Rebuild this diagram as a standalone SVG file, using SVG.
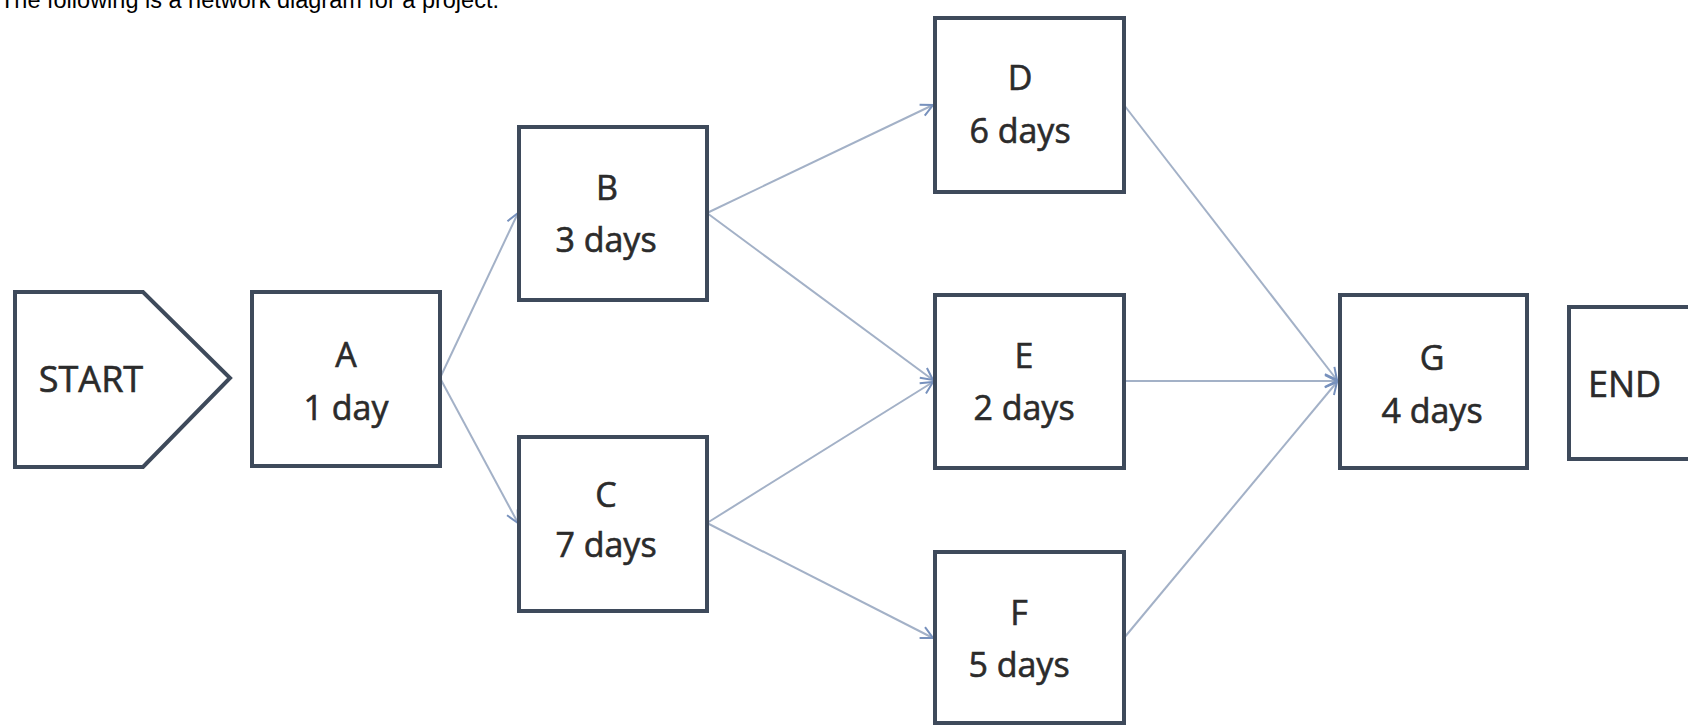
<svg xmlns="http://www.w3.org/2000/svg" width="1688" height="726" viewBox="0 0 1688 726">
<style>
.box{fill:#fff;stroke:#3e4a5b;stroke-width:4;stroke-linejoin:miter}
.lbl{font-family:"Open Sans","DejaVu Sans",sans-serif;font-size:34px;fill:#2b2b2b;stroke:#2b2b2b;stroke-width:0.6;text-anchor:middle}
.big{font-size:36px}
.title{font-family:"Liberation Sans",Arial,sans-serif;font-size:23.5px;fill:#000}
.conn{stroke:#a3b1c7;stroke-width:2;fill:none;marker-end:url(#arr)}
</style>
<defs>
<marker id="arr" markerUnits="userSpaceOnUse" viewBox="-14 -8 16 16" refX="0" refY="0" markerWidth="16" markerHeight="16" orient="auto">
<path d="M-12,-6 L0,0 L-12,6" fill="none" stroke="#7791bd" stroke-width="2"/>
</marker>
</defs>
<rect width="1688" height="726" fill="#fff"/>
<text class="title" x="0" y="8">The following is a network diagram for a project.</text>
<g id="connectors">
<line class="conn" x1="440" y1="378" x2="518" y2="213"/>
<line class="conn" x1="440" y1="378" x2="518" y2="523"/>
<line class="conn" x1="707" y1="213" x2="933" y2="105"/>
<line class="conn" x1="707" y1="213" x2="933" y2="380"/>
<line class="conn" x1="707" y1="523" x2="933" y2="382"/>
<line class="conn" x1="707" y1="523" x2="933" y2="638"/>
<line class="conn" x1="1124" y1="105" x2="1337" y2="380"/>
<line class="conn" x1="1124" y1="381" x2="1337" y2="381"/>
<line class="conn" x1="1124" y1="638" x2="1337" y2="382"/>
</g>
<g id="start">
<polygon class="box" points="15,292 143,292 230,378 143,467 15,467"/>
<text class="lbl big" x="91" y="392">START</text>
</g>
<g id="A">
<rect class="box" x="252" y="292" width="188" height="174"/>
<text class="lbl" x="346" y="367">A</text>
<text class="lbl" x="346" y="420">1 day</text>
</g>
<g id="B">
<rect class="box" x="519" y="127" width="188" height="173"/>
<text class="lbl" x="607" y="200">B</text>
<text class="lbl" x="606" y="252">3 days</text>
</g>
<g id="C">
<rect class="box" x="519" y="437" width="188" height="174"/>
<text class="lbl" x="606" y="507">C</text>
<text class="lbl" x="606" y="557">7 days</text>
</g>
<g id="D">
<rect class="box" x="935" y="18" width="189" height="174"/>
<text class="lbl" x="1020" y="90">D</text>
<text class="lbl" x="1020" y="143">6 days</text>
</g>
<g id="E">
<rect class="box" x="935" y="295" width="189" height="173"/>
<text class="lbl" x="1024" y="368">E</text>
<text class="lbl" x="1024" y="420">2 days</text>
</g>
<g id="F">
<rect class="box" x="935" y="552" width="189" height="171"/>
<text class="lbl" x="1019" y="625">F</text>
<text class="lbl" x="1019" y="677">5 days</text>
</g>
<g id="G">
<rect class="box" x="1340" y="295" width="187" height="173"/>
<text class="lbl" x="1432" y="370">G</text>
<text class="lbl" x="1432" y="423">4 days</text>
</g>
<g id="end">
<rect class="box" x="1569" y="307" width="140" height="152"/>
<text class="lbl big" x="1588" y="397" style="text-anchor:start">END</text>
</g>
</svg>
